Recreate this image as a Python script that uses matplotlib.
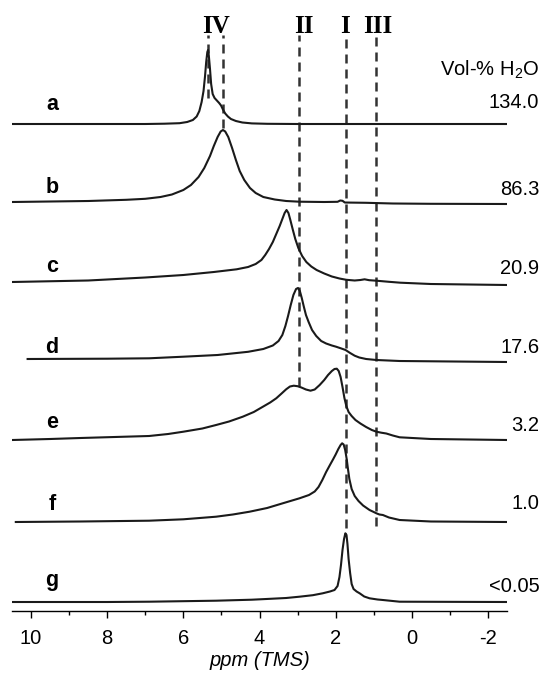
import matplotlib
matplotlib.use("Agg")
import matplotlib.pyplot as plt

plt.rcParams['font.family'] = ['Liberation Sans', 'DejaVu Sans']
plt.rcParams['mathtext.fontset'] = 'custom'
plt.rcParams['mathtext.rm'] = 'Liberation Sans'
plt.rcParams['axes.unicode_minus'] = False

# traced spectra: chemical shift (ppm) and intensity above each trace's baseline
ppm_a = [10.5, 7.0, 6.5, 6.10, 5.9, 5.75, 5.65, 5.58, 5.52, 5.47, 5.43, 5.40,
         5.37, 5.35, 5.33, 5.30, 5.27, 5.23, 5.18, 5.12, 5.06, 5.01, 4.96, 4.90,
         4.83, 4.75, 4.62, 4.45, 4.2, 3.8, 3.0, -2.5]
int_a = [0, 0, 0.3, 0.8, 2, 4, 7.5, 13, 22, 33, 48, 62, 72, 74, 68, 55, 40, 30,
         26, 23.5, 21, 18.5, 14.5, 10.5, 7.5, 5, 3, 1.5, 0.6, 0.2, 0, 0]

ppm_b = [10.5, 9.5, 8.5, 7.5, 7.0, 6.6, 6.3, 6.0, 5.8, 5.6, 5.45, 5.3, 5.2, 5.1,
         5.02, 4.96, 4.90, 4.82, 4.72, 4.62, 4.52, 4.40, 4.25, 4.1, 3.9, 3.6, 3.3,
         2.95, 2.3, 1.95, 1.88, 1.82, 1.76, 1.6, 1.2, 0.5, -0.5, -2.5]
int_b = [2, 2.5, 3, 4.2, 5.2, 7, 9.5, 14, 19, 27, 36, 48, 58, 67, 72.5, 74, 72.5,
         67, 56, 44, 33, 24, 16, 11, 7, 4.5, 3, 2.3, 2, 2.2, 3.5, 3.2, 1.5, 1.4,
         1.2, 0.5, 0.2, 0]

ppm_c = [10.5, 8.5, 7.0, 6.0, 5.2, 4.6, 4.3, 4.1, 3.95, 3.85, 3.75, 3.65, 3.56,
         3.47, 3.40, 3.34, 3.29, 3.24, 3.19, 3.13, 3.06, 2.98, 2.88, 2.77, 2.64,
         2.5, 2.3, 2.1, 1.9, 1.72, 1.5, 1.35, 1.24, 1.12, 0.93, 0.6, 0.3, -0.5, -2.5]
int_c = [3, 4.5, 7.5, 10, 13, 15.7, 18, 21, 25, 30, 36, 43, 51, 59, 66, 72, 75,
         72, 65, 56, 46, 37, 29, 23, 18.5, 15, 11.5, 8.5, 6.5, 5.2, 4.5, 5, 5.7,
         4.8, 4.3, 3.2, 2.3, 1, 0]

ppm_d = [10.09, 8.0, 6.9, 6.0, 5.1, 4.3, 3.9, 3.65, 3.5, 3.4, 3.32, 3.25, 3.18,
         3.11, 3.04, 2.99, 2.94, 2.89, 2.84, 2.78, 2.71, 2.62, 2.51, 2.38, 2.25,
         2.1, 1.99, 1.85, 1.74, 1.62, 1.5, 1.38, 1.2, 0.93, 0.32, -2.5]
int_d = [3, 3.3, 3.7, 5.3, 7, 10.2, 13, 16.5, 21, 27, 36, 46, 57, 67, 73, 74, 71,
         64, 56, 47, 40, 32, 26, 21, 18.5, 16.5, 15.3, 13.5, 12, 9, 6.3, 4.5, 3,
         2, 1, 0]

ppm_e = [10.49, 9.5, 8.7, 7.8, 6.9, 6.4, 6.0, 5.5, 5.14, 4.8, 4.44, 4.15, 3.91,
         3.72, 3.56, 3.42, 3.30, 3.20, 3.10, 3.00, 2.90, 2.78, 2.66, 2.55, 2.42,
         2.30, 2.20, 2.10, 2.03, 1.97, 1.92, 1.87, 1.82, 1.77, 1.72, 1.66, 1.58,
         1.48, 1.35, 1.2, 1.05, 0.93, 0.8, 0.67, 0.5, 0.32, -0.5, -2.5]
int_e = [0, 1, 2, 3, 4, 6, 8.3, 11.5, 15, 18.5, 23.3, 28, 33.3, 37.5, 41.7, 46.5,
         50.7, 53.5, 54.3, 53.8, 52.5, 50.5, 49.3, 50.5, 55, 60, 65, 69, 71, 71.3,
         69, 63, 53, 42, 34, 28, 24, 20, 16.5, 13, 10, 8.3, 7.3, 6.5, 4.5, 2.7,
         1, 0]

ppm_f = [10.4, 8.7, 6.9, 6.0, 5.14, 4.7, 4.26, 3.8, 3.39, 2.95, 2.70, 2.55, 2.45,
         2.35, 2.25, 2.15, 2.07, 2.0, 1.93, 1.87, 1.83, 1.79, 1.75, 1.71, 1.68,
         1.64, 1.58, 1.50, 1.40, 1.28, 1.11, 1.0, 0.93, 0.85, 0.76, 0.6, 0.32,
         -0.5, -2.5]
int_f = [0, 0.5, 1.3, 2.7, 5.3, 7.5, 10.3, 14, 18.7, 23.7, 27, 30.5, 35, 42, 50,
         57, 62.5, 67.5, 73, 77, 78.7, 77.5, 72, 63, 54, 43, 33, 26, 21, 16.5, 12,
         10, 8.7, 7.5, 7, 4.5, 2, 0.5, 0]

ppm_g = [10.5, 8.0, 6.9, 5.14, 4.2, 3.82, 3.3, 2.95, 2.6, 2.34, 2.15, 2.03, 1.95,
         1.90, 1.86, 1.82, 1.78, 1.745, 1.715, 1.69, 1.66, 1.62, 1.58, 1.53, 1.45,
         1.37, 1.25, 1.11, 0.9, 0.76, 0.32, -2.5]
int_g = [0, 0, 0.3, 1.3, 2.3, 3, 4, 5.3, 6.8, 8.7, 10.5, 12, 16, 25, 37, 52, 63,
         68.7, 67, 58, 43, 29, 18, 13, 10.5, 8.7, 5.5, 3.7, 2.5, 2, 0.3, 0]

spectra_ppm = [ppm_a, ppm_b, ppm_c, ppm_d, ppm_e, ppm_f, ppm_g]
spectra_int = [int_a, int_b, int_c, int_d, int_e, int_f, int_g]
offsets = [487, 407, 326, 249, 171, 89, 9]
sample_labels = ['a', 'b', 'c', 'd', 'e', 'f', 'g']
sample_lift = [13.6, 10.7, 13, 9, 12.5, 12.5, 16]
water_labels = ['134.0', '86.3', '20.9', '17.6', '3.2', '1.0', '<0.05']
water_lift = [16, 9, 10.7, 8.7, 9, 13, 10]

# assignment lines: position, lower end, label position
line_ppm = [5.36, 4.96, 2.95, 1.74, 0.93]
line_bottom = [513, 483, 225, 83, 85]
roman_labels = ['IV', 'II', 'I', 'III']
roman_ppm = [5.14, 2.84, 1.76, 0.89]

fig = plt.figure(figsize=(5.4, 6.73), dpi=100)
ax = fig.add_axes([12 / 540, 62 / 673, 495 / 540, 611 / 673])

# dashed guide lines
for x, yb in zip(line_ppm, line_bottom):
    ax.plot([x, x], [yb, 576], color='#333333', lw=1.8, ls=(0, (3.6, 2.4)), zorder=1)

# stacked spectra
for px, iy, off in zip(spectra_ppm, spectra_int, offsets):
    ax.plot(px, [v + off for v in iy], color='#1a1a1a', lw=1.5, zorder=2,
            solid_joinstyle='round')

for lab, off, lift in zip(sample_labels, offsets, sample_lift):
    ax.text(9.45, off + lift, lab, fontsize=15.5, fontweight='bold', ha='center',
            va='baseline')

for lab, off, lift in zip(water_labels, offsets, water_lift):
    ax.text(-3.35, off + lift, lab, fontsize=14.5, ha='right', va='baseline',
            clip_on=False)

ax.text(-3.35, 535, 'Vol-% H$_2$O', fontsize=14.5, ha='right', va='baseline')

for lab, x in zip(roman_labels, roman_ppm):
    ax.text(x, 578, lab, fontsize=18, fontweight='bold', ha='center',
            va='baseline', family=['Liberation Serif'])

ax.set_xlim(10.5, -2.5)
ax.set_ylim(0, 611)
ax.set_xticks([10, 8, 6, 4, 2, 0, -2])
ax.set_xticks([9, 7, 5, 3, 1, -1], minor=True)
ax.set_yticks([])
for side in ['top', 'left', 'right']:
    ax.spines[side].set_visible(False)
ax.spines['bottom'].set_linewidth(1.0)
ax.tick_params(axis='x', which='major', length=5, width=1, pad=8, labelsize=14.5)
ax.tick_params(axis='x', which='minor', length=3, width=1)
ax.set_xlabel('ppm (TMS)', fontsize=14.5, style='italic', labelpad=2)

fig.savefig('out.png', dpi=100)
